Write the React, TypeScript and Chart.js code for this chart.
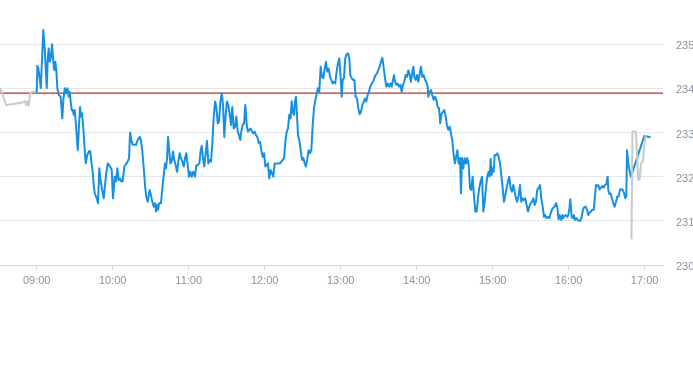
import { useEffect, useRef } from "react";
import { Chart, registerables } from "chart.js";

Chart.register(...registerables);

// minutes after 09:00 for the hour ticks, and their labels
const hourOffsets = [0, 60, 120, 180, 240, 300, 360, 420, 480];
const hourLabels = ["09:00", "10:00", "11:00", "12:00", "13:00", "14:00", "15:00", "16:00", "17:00"];
const priceTicks = [230, 231, 232, 233, 234, 235];

const axisStart = -29; // 08:31
const axisEnd = 494.5; // ~17:15
const priceMin = 230;
const priceMax = 236;
const prevClose = 233.89;

// [minutes after 09:00, price]
const preMarket: [number, number][] = [
  [-29, 234.0], [-26.8, 233.85], [-24.2, 233.62], [-17.1, 233.65], [-11.6, 233.68], [-9.2, 233.71],
  [-8.4, 233.62], [-7.4, 233.7], [-6.3, 233.6], [-5.3, 233.87], [-3.9, 233.92], [-0.6, 233.92], [0, 233.9],
];

const session: [number, number][] = [
  [0, 233.9], [0.5, 234.51], [1.3, 234.45], [3.2, 234.01], [5.2, 235.32], [6.3, 234.9], [7.9, 234.01],
  [8.7, 234.68], [9.5, 234.9], [10.3, 234.6], [11.3, 234.72], [12.1, 235.0], [13.1, 234.6], [13.9, 234.41],
  [14.7, 234.6], [15.5, 234.41], [16.3, 234.0], [17.4, 233.85], [18.9, 233.81], [20.2, 233.32], [21.0, 233.74],
  [22.1, 234.0], [23.1, 233.89], [24.2, 234.0], [25.3, 233.81], [26.1, 233.92], [26.8, 233.7], [27.6, 233.51],
  [28.4, 233.51], [29.2, 233.4], [30.0, 233.51], [30.8, 233.24], [32.4, 232.6], [33.4, 233.17], [34.2, 233.58],
  [35.0, 233.36], [35.8, 233.43], [36.8, 233.09], [37.9, 232.6], [38.7, 232.3], [39.9, 232.49], [41.3, 232.58],
  [42.3, 232.57], [43.1, 232.34], [44.2, 232.11], [45.0, 231.81], [45.8, 231.62], [47.4, 231.51], [48.4, 231.4],
  [49.4, 232.19], [50.2, 231.96], [51.6, 231.7], [52.9, 231.51], [53.9, 231.81], [54.9, 232.08], [56.1, 232.3],
  [57.9, 232.23], [59.2, 232.15], [60.2, 231.51], [61.6, 232.0], [62.6, 231.89], [63.6, 232.19], [64.7, 231.92],
  [65.8, 231.96], [66.8, 231.89], [67.9, 231.9], [69.2, 232.23], [70.3, 232.28], [71.8, 232.34], [72.9, 232.42],
  [73.7, 233.0], [74.7, 232.83], [75.8, 232.72], [77.1, 232.72], [78.4, 232.72], [79.7, 232.83], [81.3, 232.9],
  [82.3, 232.83], [83.4, 232.57], [84.5, 232.19], [85.5, 231.81], [86.3, 231.58], [87.6, 231.43], [89.2, 231.7],
  [90.2, 231.58], [91.3, 231.43], [92.4, 231.32], [93.4, 231.4], [94.2, 231.21], [95.0, 231.36], [95.8, 231.25],
  [96.6, 231.4], [98.1, 231.4], [99.2, 231.74], [100.3, 232.04], [101.3, 232.3], [102.1, 232.19], [102.9, 232.42],
  [103.7, 232.9], [104.7, 232.57], [105.5, 232.3], [106.6, 232.34], [107.6, 232.57], [108.6, 232.38],
  [109.7, 232.26], [110.8, 232.11], [111.8, 232.34], [112.9, 232.53], [113.9, 232.42], [115.0, 232.34],
  [116.1, 232.23], [117.1, 232.42], [118.1, 232.53], [119.2, 232.26], [120.2, 232.0], [121.3, 232.11],
  [122.4, 232.0], [123.6, 232.11], [125.0, 232.0], [126.0, 232.26], [127.1, 232.26], [128.4, 232.3],
  [129.5, 232.6], [130.3, 232.7], [131.3, 232.42], [132.3, 232.23], [133.4, 232.53], [134.4, 232.81],
  [135.5, 232.3], [136.6, 232.38], [137.6, 232.34], [138.6, 232.72], [139.7, 233.32], [140.8, 233.7],
  [141.8, 233.58], [142.9, 233.21], [143.9, 233.24], [145.0, 233.7], [146.1, 233.89], [147.1, 233.62],
  [148.1, 232.9], [149.2, 233.4], [150.2, 233.7], [151.3, 233.62], [152.4, 233.4], [153.4, 233.17],
  [154.4, 233.58], [155.5, 233.09], [156.6, 233.13], [157.6, 233.36], [158.7, 233.02], [159.7, 232.94],
  [160.7, 232.83], [161.5, 233.02], [162.6, 233.17], [163.7, 233.21], [164.7, 233.62], [165.8, 233.17],
  [166.8, 233.02], [167.8, 233.06], [168.9, 233.09], [170.0, 233.02], [171.0, 232.98], [172.1, 233.02],
  [173.1, 232.94], [174.2, 232.9], [175.3, 232.76], [176.3, 232.79], [177.3, 232.6], [178.4, 232.45],
  [179.5, 232.53], [180.5, 232.23], [181.6, 232.26], [182.6, 232.3], [183.6, 231.96], [184.7, 232.15],
  [185.8, 232.08], [186.8, 232.0], [187.9, 232.3], [190.0, 232.3], [192.1, 232.3], [194.2, 232.38],
  [195.3, 232.42], [196.3, 232.79], [197.4, 233.02], [198.4, 233.09], [199.4, 233.4], [200.5, 233.32],
  [201.3, 233.71], [202.1, 233.47], [203.1, 233.4], [203.9, 233.7], [204.7, 233.81], [205.5, 233.4],
  [206.3, 232.94], [207.3, 232.83], [208.4, 232.6], [209.5, 232.38], [210.5, 232.42], [211.6, 232.3],
  [212.6, 232.23], [213.7, 232.42], [214.7, 232.6], [215.8, 232.53], [216.8, 232.6], [217.9, 233.17],
  [218.9, 233.55], [220.0, 233.74], [221.1, 233.89], [222.1, 234.0], [223.1, 233.92], [224.2, 234.49],
  [225.2, 234.26], [226.3, 234.23], [227.4, 234.45], [228.4, 234.6], [229.4, 234.38], [230.5, 234.45],
  [231.6, 234.26], [232.6, 234.19], [233.7, 234.11], [234.7, 234.15], [235.7, 234.11], [236.8, 234.38],
  [237.9, 234.57], [238.9, 234.68], [240.0, 234.23], [240.8, 233.81], [241.6, 234.19], [242.6, 234.23],
  [243.6, 234.68], [244.7, 234.77], [245.8, 234.79], [246.8, 234.68], [247.6, 234.3], [248.7, 234.23],
  [249.7, 234.19], [250.8, 234.19], [251.8, 233.81], [252.9, 233.77], [253.9, 233.55], [255.0, 233.41],
  [256.0, 233.47], [257.1, 233.62], [258.2, 233.7], [259.2, 233.77], [260.2, 233.7], [261.3, 233.85],
  [262.3, 233.92], [263.4, 234.04], [264.5, 234.11], [265.5, 234.15], [266.5, 234.23], [267.6, 234.3],
  [268.7, 234.34], [269.7, 234.41], [270.8, 234.49], [271.8, 234.6], [272.9, 234.69], [274.0, 234.45],
  [275.0, 234.23], [276.0, 234.04], [277.1, 234.11], [278.2, 234.04], [279.2, 234.11], [280.3, 234.04],
  [281.3, 234.19], [282.1, 234.3], [282.9, 234.15], [283.9, 234.08], [285.0, 234.11], [286.0, 234.04],
  [287.1, 234.08], [288.2, 233.92], [289.2, 234.08], [290.2, 234.15], [291.3, 234.3], [292.4, 234.26],
  [293.4, 234.41], [294.5, 234.3], [295.5, 234.15], [296.6, 234.38], [297.4, 234.49], [298.1, 234.26],
  [299.2, 234.19], [300.2, 234.3], [301.3, 234.15], [302.4, 234.34], [303.4, 234.49], [304.4, 234.26],
  [305.5, 234.3], [306.6, 234.19], [307.6, 234.15], [308.7, 234.04], [309.2, 233.81], [310.3, 233.92],
  [311.3, 233.96], [312.3, 233.85], [313.4, 233.74], [314.5, 233.81], [315.5, 233.74], [316.6, 233.58],
  [317.6, 233.55], [318.6, 233.21], [319.7, 233.43], [320.8, 233.47], [321.8, 233.51], [322.9, 233.36],
  [323.9, 233.17], [325.0, 233.06], [326.1, 233.13], [327.1, 232.98], [328.1, 232.83], [329.2, 232.49],
  [330.2, 232.3], [331.0, 232.42], [332.1, 232.6], [333.1, 232.3], [334.2, 232.42], [335.0, 231.62],
  [335.8, 232.42], [336.8, 232.19], [337.9, 232.42], [338.9, 232.3], [340.0, 232.42], [341.1, 232.26],
  [342.1, 231.74], [343.1, 231.7], [344.2, 232.0], [345.2, 231.58], [346.3, 231.21], [347.4, 231.21],
  [348.4, 231.51], [349.4, 231.74], [350.5, 231.89], [351.6, 232.0], [352.6, 231.21], [353.7, 231.43],
  [354.7, 231.74], [355.7, 232.0], [356.8, 232.11], [357.6, 232.0], [358.4, 232.4], [359.2, 232.04],
  [360.0, 232.19], [360.8, 232.11], [361.6, 232.49], [362.6, 232.49], [363.7, 232.53], [364.7, 232.45],
  [365.8, 232.3], [366.8, 232.04], [367.9, 231.74], [368.9, 231.43], [370.0, 231.58], [371.0, 231.74],
  [372.1, 231.89], [373.1, 232.0], [374.2, 231.74], [375.2, 231.66], [376.3, 231.81], [377.4, 231.66],
  [378.4, 231.51], [379.4, 231.43], [380.5, 231.58], [381.6, 231.81], [382.6, 231.43], [383.7, 231.51],
  [384.7, 231.47], [385.7, 231.51], [386.8, 231.36], [387.9, 231.21], [388.9, 231.32], [390.0, 231.4],
  [391.0, 231.43], [392.1, 231.51], [393.2, 231.36], [394.2, 231.43], [395.2, 231.7], [396.3, 231.74],
  [397.4, 231.81], [398.4, 231.51], [399.5, 231.32], [400.5, 231.09], [401.5, 231.13], [402.6, 231.06],
  [403.7, 231.09], [404.7, 231.06], [405.8, 231.17], [406.8, 231.25], [407.9, 231.3], [408.9, 231.32],
  [410.0, 231.4], [411.1, 231.3], [412.0, 231.03], [412.8, 231.13], [413.4, 231.09], [414.2, 231.02],
  [415.0, 231.13], [415.8, 231.06], [416.5, 231.11], [417.6, 231.13], [418.7, 231.09], [419.7, 231.13],
  [420.5, 231.25], [421.3, 231.49], [422.4, 231.09], [423.4, 231.06], [424.2, 231.13], [425.0, 231.02],
  [426.0, 231.06], [427.1, 231.02], [428.1, 231.0], [429.2, 231.0], [430.3, 231.09], [431.3, 231.25],
  [432.3, 231.31], [433.4, 231.32], [434.5, 231.26], [435.5, 231.13], [436.6, 231.19], [437.6, 231.21],
  [438.6, 231.25], [439.8, 231.25], [440.8, 231.58], [441.6, 231.81], [442.4, 231.79], [443.4, 231.81],
  [444.5, 231.71], [445.5, 231.75], [446.5, 231.79], [447.6, 231.75], [448.7, 231.81], [449.7, 231.83],
  [450.8, 232.0], [451.3, 231.7], [452.1, 231.61], [453.2, 231.62], [454.2, 231.51], [455.2, 231.4],
  [456.3, 231.32], [457.4, 231.43], [458.4, 231.55], [459.5, 231.55], [460.5, 231.7], [461.5, 231.72],
  [462.6, 231.7], [463.6, 231.64], [464.7, 231.51], [465.5, 231.55], [466.1, 232.6], [467.1, 232.3],
  [468.2, 232.11], [469.2, 232.0], [479.7, 232.92], [484.0, 232.9],
];

const postMarket: [number, number][] = [
  [469.6, 230.6], [470.4, 233.02], [473.1, 233.02], [475.0, 231.92], [476.1, 231.95], [477.1, 232.3],
  [478.7, 232.35], [479.7, 232.7], [480.8, 232.92],
];

const BLUE = "#1690e3";
const GREY = "#c4cacf";
const RED = "#c22f26";
const GRID = "#e4e7eb";
const AXIS = "#d3d8dd";
const TEXT = "#8a939e";
const FONT = "'Liberation Sans', Arial, sans-serif";

const toPoints = (rows: [number, number][]) => rows.map(([x, y]) => ({ x, y }));

export default function App() {
  const ref = useRef<HTMLCanvasElement | null>(null);

  useEffect(() => {
    if (!ref.current) return;
    const chart = new Chart(ref.current, {
      type: "line",
      data: {
        datasets: [
          { data: toPoints(postMarket), borderColor: GREY, borderWidth: 2, order: 0 },
          { data: toPoints(session), borderColor: BLUE, borderWidth: 2, order: 1 },
          { data: toPoints(preMarket), borderColor: GREY, borderWidth: 2, order: 2 },
          {
            data: [
              { x: axisStart, y: prevClose },
              { x: axisEnd, y: prevClose },
            ],
            borderColor: RED,
            borderWidth: 1.2,
            order: 3,
          },
        ],
      },
      options: {
        animation: false,
        responsive: false,
        maintainAspectRatio: false,
        layout: { padding: 0 },
        elements: {
          point: { radius: 0, hoverRadius: 0 },
          line: { tension: 0, borderJoinStyle: "round", borderCapStyle: "round" },
        },
        plugins: { legend: { display: false }, tooltip: { enabled: false } },
        scales: {
          x: {
            type: "linear",
            min: axisStart,
            max: axisEnd,
            afterBuildTicks: (axis: any) => {
              axis.ticks = hourOffsets.map((v) => ({ value: v }));
            },
            afterFit: (axis: any) => {
              axis.height = 100;
              axis.paddingLeft = 0;
              axis.paddingRight = 0;
            },
            ticks: {
              autoSkip: false,
              maxRotation: 0,
              padding: 4,
              color: TEXT,
              font: { family: FONT, size: 11 },
              callback: (_v: any, i: number) => hourLabels[i],
            },
            grid: { drawOnChartArea: false, drawTicks: true, tickLength: 5, color: AXIS },
            border: { display: true, color: AXIS },
          },
          y: {
            type: "linear",
            position: "right",
            min: priceMin,
            max: priceMax,
            afterBuildTicks: (axis: any) => {
              axis.ticks = priceTicks.map((v) => ({ value: v }));
            },
            afterFit: (axis: any) => {
              axis.width = 30;
              axis.paddingTop = 0;
              axis.paddingBottom = 0;
            },
            ticks: {
              padding: 13,
              labelOffset: 2,
              color: TEXT,
              font: { family: FONT, size: 11 },
              callback: (v: any) => String(v),
            },
            grid: { drawTicks: false, color: GRID },
            border: { display: false },
          },
        },
      },
    });
    return () => chart.destroy();
  }, []);

  return (
    <canvas
      ref={ref}
      width={693}
      height={365}
      style={{ position: "absolute", left: 0, top: 0, width: 693, height: 365, display: "block" }}
    />
  );
}
